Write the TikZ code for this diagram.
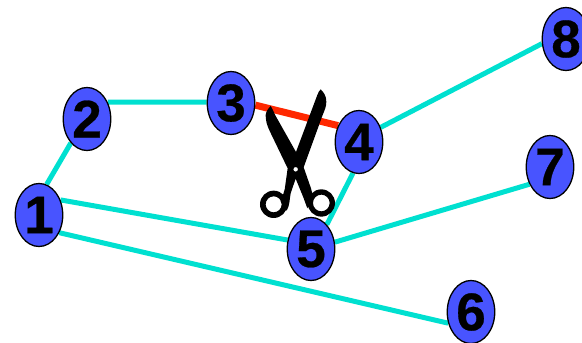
\documentclass[tikz,border=0pt]{standalone}
\usepackage{fontspec}
\setmainfont[BoldFeatures={FakeBold=0.5}]{Liberation Sans}
\usetikzlibrary{shapes.geometric,backgrounds}
\definecolor{nodeblue}{RGB}{72,84,255}
\definecolor{linkcyan}{RGB}{0,224,208}
\definecolor{cutred}{RGB}{255,40,0}
\tikzset{
  vertex/.style={ellipse,draw=black,line width=1.3pt,fill=nodeblue,minimum width=47.5pt,minimum height=63pt,inner sep=0pt,font=\fontsize{53}{53}\selectfont\bfseries,text=black},
  link/.style={linkcyan,line width=5pt},
  cut/.style={cutred,line width=7pt}
}
\begin{document}
\begin{tikzpicture}[x=1pt,y=-1pt]
\useasboundingbox (0,0) rectangle (582,343);
\node[vertex] (n1) at (39,215) {1};
\node[vertex] (n2) at (87,119) {2};
\node[vertex] (n3) at (231,103) {3};
\node[vertex] (n4) at (359,142) {4};
\node[vertex] (n5) at (311,249) {5};
\node[vertex] (n6) at (471,312) {6};
\node[vertex] (n7) at (550,167) {7};
\node[vertex] (n8) at (566,39) {8};
\begin{scope}[on background layer]
\draw[link] (n1.76) -- (n2.236);
\draw[link] (n2.39) -- (n3.178);
\draw[cut] (n3.355) -- (n4.142);
\draw[link] (n4.259) -- (n5.57);
\draw[link] (n4.34) -- (n8.191);
\draw[link] (n5.16) -- (n7.220);
\draw[link] (n1.35) -- (n5.159);
\draw[link] (n1.319) -- (n6.206);
\end{scope}
\begin{scope}[shift={(200,60)},x=0.3333pt,y=-0.3333pt]
\fill[black,even odd rule]
  (212,138) .. controls (220,150) and (224,165) .. (235,182)
  -- (288,276) -- (352,105) .. controls (355,97) and (358,92) .. (362,88)
  .. controls (372,98) and (379,108) .. (379,125)
  .. controls (379,140) and (374,150) .. (368,165)
  -- (311,322) -- (333,385)
  .. controls (337,398) and (337,405) .. (333,420)
  -- (322,445) -- (310,412) -- (287,356)
  -- (272,400) .. controls (268,420) and (270,435) .. (260,452)
  -- (242,425) .. controls (246,410) and (256,390) .. (256,375)
  -- (263,325) -- (210,215)
  .. controls (200,195) and (197,180) .. (197,165)
  .. controls (198,155) and (205,145) .. (212,138) -- cycle
  (287,328) circle[radius=7];
\fill[black,even odd rule]
  (221,433) circle[radius=41] (221,433) circle[radius=24]
  (364,429) circle[radius=41] (364,429) circle[radius=25];
\end{scope}
\end{tikzpicture}
\end{document}
